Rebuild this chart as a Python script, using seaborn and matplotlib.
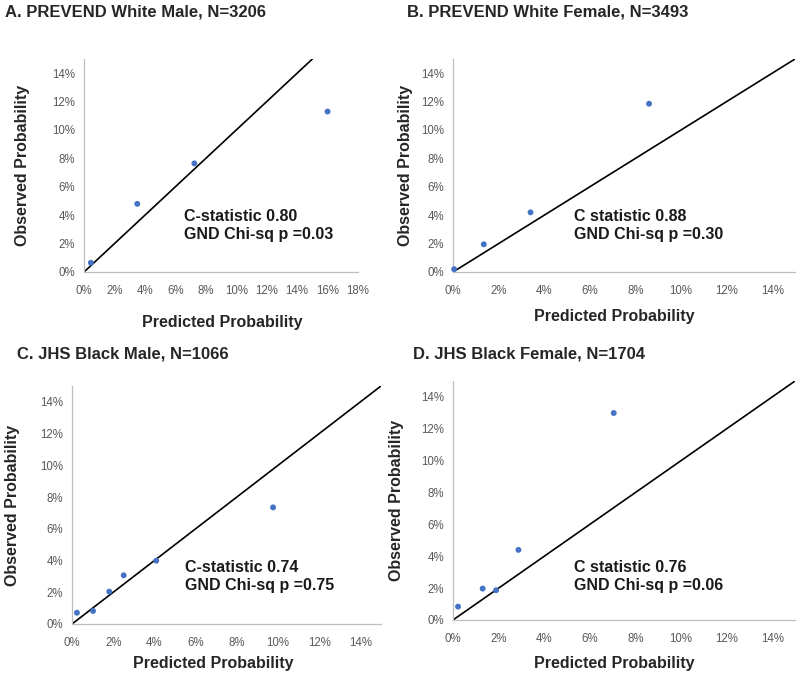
import numpy as np
import pandas as pd
import matplotlib
matplotlib.use("Agg")
import matplotlib.pyplot as plt
import seaborn as sns
from matplotlib.ticker import PercentFormatter, MultipleLocator

# calibration points (percent)
a_pred = [0.45, 3.5, 7.25, 16.0]
a_obs = [0.65, 4.8, 7.65, 11.3]
b_pred = [0.05, 1.35, 3.4, 8.6]
b_obs = [0.2, 1.95, 4.2, 11.85]
c_pred = [0.24, 1.02, 1.81, 2.51, 4.09, 9.76]
c_obs = [0.71, 0.82, 2.04, 3.07, 3.99, 7.35]
d_pred = [0.22, 1.30, 1.89, 2.87, 7.05]
d_obs = [0.84, 1.97, 1.87, 4.40, 12.99]

titles = ["A. PREVEND White Male, N=3206", "B. PREVEND White Female, N=3493",
          "C. JHS Black Male, N=1066", "D. JHS Black Female, N=1704"]
stats = ["C-statistic 0.80\nGND Chi-sq p =0.03", "C statistic 0.88\nGND Chi-sq p =0.30",
         "C-statistic 0.74\nGND Chi-sq p =0.75", "C statistic 0.76\nGND Chi-sq p =0.06"]
x_max = [18, 15, 15, 15]

sns.set_style("white")
plt.rcParams['font.family'] = ['Liberation Sans', 'DejaVu Sans']

W, H = 800, 678
fig = plt.figure(figsize=(W / 100, H / 100), dpi=100)

# axes boxes in pixels: left, right, top, bottom
boxes = [(84, 358, 59, 272), (453, 795, 59, 272), (72, 381, 386, 624), (453, 795, 381, 620)]
title_pos = [(5, 12), (407, 12), (17, 354), (413, 354)]
ylab_x = [-0.226, -0.140, -0.194, -0.164]
xlab_xy = [(0.504, -0.239), (0.471, -0.207), (0.456, -0.164), (0.471, -0.18)]
stat_xy = [(6.6, 3.26), (5.3, 3.26), (5.5, 2.98), (5.3, 2.72)]

panels = [(a_pred, a_obs), (b_pred, b_obs), (c_pred, c_obs), (d_pred, d_obs)]
grey = "#bfbfbf"

for i, (pred, obs) in enumerate(panels):
    l, r, t, b = boxes[i]
    ax = fig.add_axes([l / W, (H - b) / H, (r - l) / W, (b - t) / H])
    df = pd.DataFrame({"pred": pred, "obs": obs})
    ax.axline((0, 0), slope=1, color="black", lw=1.2, zorder=1)
    sns.scatterplot(data=df, x="pred", y="obs", ax=ax, color="#4472c4", s=18,
                    edgecolor="none", zorder=3, clip_on=False)
    ax.set_xlim(0, x_max[i])
    ax.set_ylim(0, 15)
    ax.xaxis.set_major_locator(MultipleLocator(2))
    ax.yaxis.set_major_locator(MultipleLocator(2))
    ax.xaxis.set_major_formatter(PercentFormatter(decimals=0))
    ax.yaxis.set_major_formatter(PercentFormatter(decimals=0))
    ax.tick_params(axis="both", labelsize=8.3, labelcolor="#595959", color=grey,
                   length=3.5, width=0.8, direction="out", pad=3)
    ax.tick_params(axis="x", pad=6)
    for s in ["top", "right"]:
        ax.spines[s].set_visible(False)
    for s in ["left", "bottom"]:
        ax.spines[s].set_color(grey)
        ax.spines[s].set_linewidth(0.9)
    ax.set_xlabel("Predicted Probability", fontsize=11.5, fontweight="bold", va="center")
    ax.set_ylabel("Observed Probability", fontsize=11.5, fontweight="bold", va="center")
    ax.xaxis.set_label_coords(*xlab_xy[i])
    ax.yaxis.set_label_coords(ylab_x[i], 0.5)
    ax.text(stat_xy[i][0], stat_xy[i][1], stats[i], fontsize=11.5, fontweight="bold",
            ha="left", va="center", linespacing=1.25, color="#1a1a1a")
    fig.text(title_pos[i][0] / W, 1 - title_pos[i][1] / H, titles[i], fontsize=12,
             fontweight="bold", ha="left", va="center")

fig.savefig("out.png", dpi=100)
